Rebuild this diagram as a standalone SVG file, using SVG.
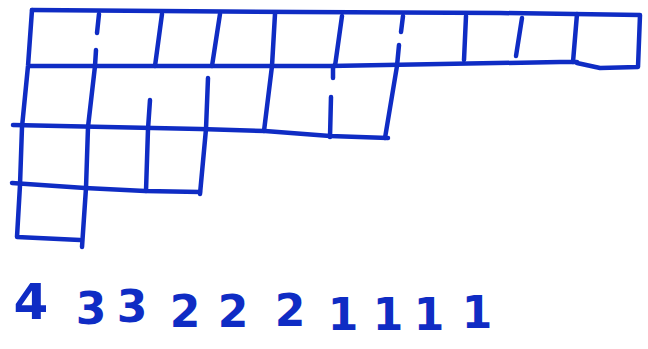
<svg xmlns="http://www.w3.org/2000/svg" width="648" height="349" viewBox="0 0 648 349">
<style>
.ln{fill:none;stroke:#0f2cc4;stroke-width:4.5;stroke-linecap:round;stroke-linejoin:round}
.dg{font-family:"DejaVu Sans",sans-serif;font-weight:bold;font-size:44px;fill:#0f2cc4;text-anchor:middle}
</style>
<rect width="648" height="349" fill="#fff"/>
<g id="grid" class="ln">
<path d="M32,10 L300,12 L500,13 L640,15 L638,67 L600,68 L577,63"/>
<path d="M30,66 L330,66 L560,62 L577,62"/>
<path d="M32,10 L28,66 L22,127 L20,185 L17,237 L80,240"/>
<path d="M99,14 L97,33 M96,50 L95,66 L88,127 L86,188 L82,247"/>
<path d="M162,14 L155,66"/>
<path d="M220,14 L212,66"/>
<path d="M275,14 L272,66 L264,131"/>
<path d="M342,16 L335,66 M333,66 L333,78 M331,97 L330,137"/>
<path d="M403,16 L401,32 M399,45 L397,66 L385,138"/>
<path d="M466,16 L464,60"/>
<path d="M522,18 L516,56"/>
<path d="M577,14 L573,62"/>
<path d="M150,100 L148,129 L146,191"/>
<path d="M208,78 L206,129 L200,194"/>
<path d="M13,125 L200,129 L265,131 L330,136 L388,138"/>
<path d="M12,183 L85,188 L145,191 L200,192"/>
</g>
<g id="labels" class="dg">
<text x="31" y="319" font-size="50">4</text>
<text x="91" y="324">3</text>
<text x="132" y="322">3</text>
<text x="185" y="327">2</text>
<text x="233" y="327">2</text>
<text x="290" y="326">2</text>
<text x="343" y="330">1</text>
<text x="388" y="330">1</text>
<text x="429" y="330">1</text>
<text x="477" y="328">1</text>
</g>
</svg>
